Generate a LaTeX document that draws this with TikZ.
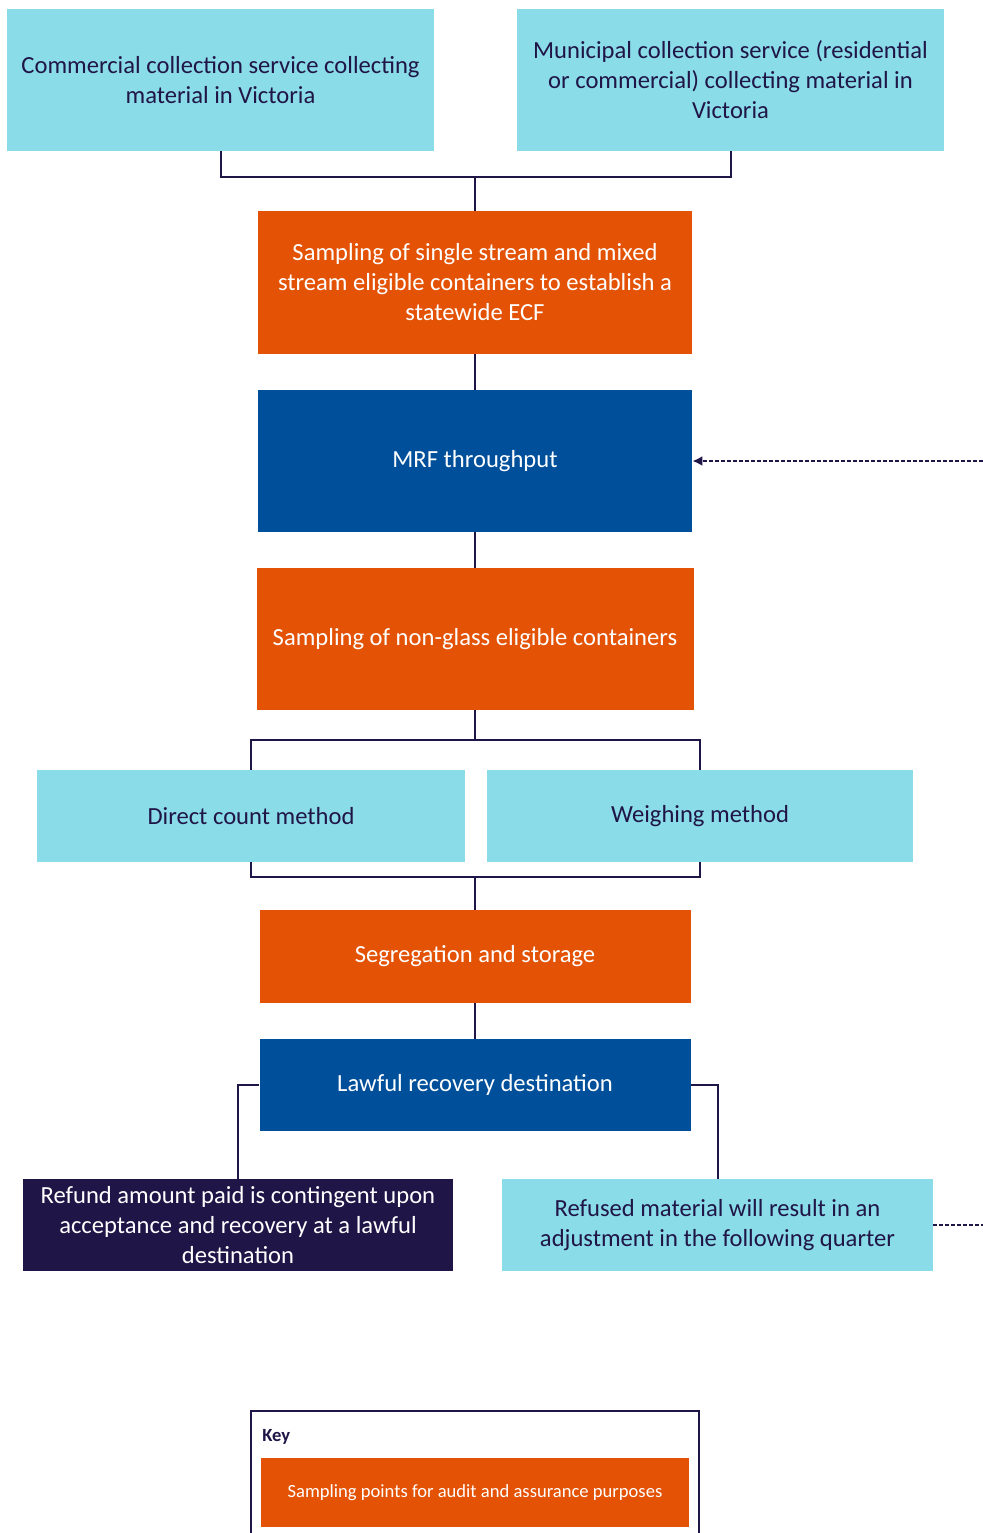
\documentclass[tikz,border=0pt]{standalone}
\usepackage{fontspec}
\setmainfont{Carlito}
\usetikzlibrary{arrows.meta}

\definecolor{cyanbox}{HTML}{89DCE8}
\definecolor{orangebox}{HTML}{E35205}
\definecolor{bluebox}{HTML}{004F9A}
\definecolor{navy}{HTML}{201547}

\begin{document}
\begin{tikzpicture}[x=0.5pt, y=-0.5pt,
    box/.style={rectangle, align=center, inner sep=0pt,
      font=\fontsize{12.3}{15}\selectfont},
    light/.style={box, fill=cyanbox, text=navy},
    sample/.style={box, fill=orangebox, text=white},
    plant/.style={box, fill=bluebox, text=white},
    link/.style={draw=navy, line width=1pt},
    feedback/.style={draw=navy, line width=1pt, dash pattern=on 2pt off 1pt}]
      \useasboundingbox (0, 0) rectangle (983, 1533);

      \node[light, minimum width=213.5pt, minimum height=71pt] (comm) at (220.5, 80) {Commercial collection service collecting\\material in Victoria};
      \node[light, minimum width=213.5pt, minimum height=71pt] (muni) at (730.5, 80) {Municipal collection service (residential\\or commercial) collecting material in\\Victoria};
      \node[sample, minimum width=217pt, minimum height=71.5pt] (ecf) at (475, 282.5) {Sampling of single stream and mixed\\stream eligible containers to establish a\\statewide ECF};
      \node[plant, minimum width=217pt, minimum height=71pt] (mrf) at (475, 461) {MRF throughput};
      \node[sample, minimum width=218.5pt, minimum height=71pt] (nonglass) at (475, 639) {Sampling of non-glass eligible containers};
      \node[light, minimum width=214pt, minimum height=46pt] (count) at (251, 816) {Direct count method};
      \node[light, minimum width=213pt, minimum height=46pt] (weigh) at (700, 816) {Weighing method};
      \node[sample, minimum width=215.5pt, minimum height=46.5pt] (store) at (475, 956.5) {Segregation and storage};
      \node[plant, minimum width=215.5pt, minimum height=46pt] (lawful) at (475, 1085) {Lawful recovery destination};
      \node[box, fill=navy, text=white, minimum width=215pt, minimum height=46pt] (refund) at (238, 1225) {Refund amount paid is contingent upon\\acceptance and recovery at a lawful\\destination};
      \node[light, minimum width=215.5pt, minimum height=46pt] (refused) at (717.5, 1225) {Refused material will result in an\\adjustment in the following quarter};

      % key
      \coordinate (keyl) at (251, 1533);
      \coordinate (keyr) at (699, 1533);
      \draw[navy, line width=1pt] (keyl) |- (699, 1411) -- (keyr);
      \node[anchor=west, text=navy, inner sep=0pt, font=\fontsize{9.3}{11}\selectfont\bfseries] (keylabel) at (262, 1437) {Key};
      \node[sample, minimum width=214pt, minimum height=34.5pt, font=\fontsize{9.3}{11}\selectfont] (keysample) at (475, 1492.5) {Sampling points for audit and assurance purposes};

      \coordinate (join1) at (475, 177);
      \coordinate (join2) at (475, 740);
      \coordinate (join3) at (475, 877);
      \coordinate (edge1) at (983, 461);
      \coordinate (edge2) at (983, 1225);

      \draw[link] (comm.south) |- (join1) -| (muni.south);
      \draw[link] (join1) -- (ecf.north);
      \draw[link] (ecf) -- (mrf);
      \draw[link] (mrf) -- (nonglass);
      \draw[link] (nonglass) -- (join2);
      \draw[link] (count.north) |- (join2) -| (weigh.north);
      \draw[link] (count.south) |- (join3) -| (weigh.south);
      \draw[link] (join3) -- (store.north);
      \draw[link] (store) -- (lawful);
      \draw[link] (lawful.west) -| (refund.north);
      \draw[link] (lawful.east) -| (refused.north);

      \draw[feedback, -{Latex[length=5pt, width=5pt]}] (edge1) -- (mrf.east);
      \draw[feedback] (refused.east) -- (edge2);
    \end{tikzpicture}
\end{document}
